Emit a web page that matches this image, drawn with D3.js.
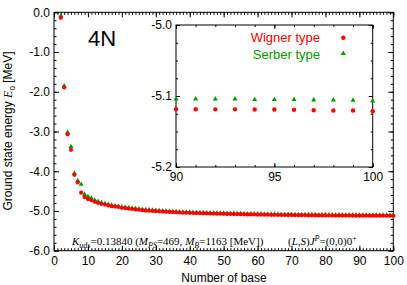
<!DOCTYPE html>
<html>
<head>
<meta charset="utf-8">
<script src="https://cdn.jsdelivr.net/npm/d3@7"></script>
<style>
  body { margin: 0; background: #fff; }
  svg { display: block; font-family: "Liberation Sans", Arial, sans-serif; }
  .tk text { font-family: "Liberation Sans", Arial, sans-serif; font-size: 12px; fill: #000; }
  .tk line { stroke: #000; }
  .ann { font-family: "Liberation Serif", "Times New Roman", serif; font-size: 11px; }
</style>
</head>
<body>
<svg width="407" height="285"></svg>
<script>
// number of basis functions
var nBase = d3.range(2, 101);

// Wigner type (red circles), N = 2 .. 100
var wigner = [
  -0.14, -1.89, -3.07, -3.46, -4.09, -4.28, -4.54, -4.65, -4.70, -4.73,
  -4.77, -4.80, -4.82, -4.84, -4.86, -4.88, -4.89, -4.90, -4.92, -4.93,
  -4.94, -4.95, -4.96, -4.97, -4.98, -4.99, -4.995, -5.00, -5.005, -5.01,
  -5.015, -5.02, -5.025, -5.03, -5.034, -5.038, -5.042, -5.045, -5.048, -5.051,
  -5.054, -5.057, -5.060, -5.062, -5.064, -5.066, -5.068, -5.070, -5.072, -5.074,
  -5.076, -5.078, -5.080, -5.082, -5.084, -5.086, -5.088, -5.089, -5.091, -5.092,
  -5.094, -5.095, -5.097, -5.098, -5.099, -5.101, -5.102, -5.103, -5.104, -5.105,
  -5.106, -5.107, -5.108, -5.109, -5.110, -5.111, -5.112, -5.112, -5.113, -5.114,
  -5.114, -5.115, -5.115, -5.116, -5.116, -5.117, -5.117, -5.118, -5.1187, -5.1187,
  -5.1188, -5.1188, -5.119, -5.119, -5.1195, -5.120, -5.1204, -5.1205, -5.1215
];

// Serber type (green triangles), N = 2 .. 100
var serber = [
  -0.09, -1.85, -3.02, -3.38, -4.05, -4.24, -4.33, -4.58, -4.64, -4.68,
  -4.73, -4.76, -4.79, -4.815, -4.835, -4.855, -4.87, -4.88, -4.90, -4.91,
  -4.92, -4.93, -4.94, -4.95, -4.96, -4.97, -4.976, -4.982, -4.988, -4.994,
  -5.00, -5.005, -5.01, -5.015, -5.019, -5.023, -5.027, -5.030, -5.033, -5.036,
  -5.039, -5.042, -5.045, -5.047, -5.049, -5.051, -5.053, -5.055, -5.057, -5.059,
  -5.061, -5.063, -5.065, -5.067, -5.069, -5.071, -5.073, -5.074, -5.076, -5.077,
  -5.079, -5.080, -5.082, -5.083, -5.084, -5.086, -5.087, -5.088, -5.089, -5.090,
  -5.091, -5.092, -5.093, -5.094, -5.095, -5.096, -5.097, -5.097, -5.098, -5.099,
  -5.099, -5.100, -5.100, -5.101, -5.101, -5.102, -5.102, -5.103, -5.1042, -5.1042,
  -5.1042, -5.1042, -5.1051, -5.1051, -5.1051, -5.1056, -5.1056, -5.106, -5.107
];

var mainXTicks = [0, 10, 20, 30, 40, 50, 60, 70, 80, 90, 100];
var mainYTicks = [0, -1, -2, -3, -4, -5, -6];
var insetXTicks = [90, 95, 100];
var insetYTicks = [-5.0, -5.1, -5.2];

var RED = "#ff0000", GREEN = "#009a00";

var svg = d3.select("svg");

var x = d3.scaleLinear().domain([0, 100]).range([54, 393.3]);
var y = d3.scaleLinear().domain([-6, 0]).range([250.7, 12.3]);

var fmt1 = function(d) { return d.toFixed(1); };
var tri = d3.symbol().type(d3.symbolTriangle).size(11);

// draws ticks on all four sides of a frame
function frame(g, xs, ys, o) {
  var x0 = xs.range()[0], x1 = xs.range()[1], y0 = ys.range()[0], y1 = ys.range()[1];

  g.append("g").attr("class", "tk").attr("transform", "translate(0," + y0 + ")")
    .call(d3.axisBottom(xs).tickValues(o.xMinor).tickSize(-o.minor).tickFormat(""));
  g.append("g").attr("class", "tk").attr("transform", "translate(0," + y1 + ")")
    .call(d3.axisTop(xs).tickValues(o.xMinor).tickSize(-o.minor).tickFormat(""));
  g.append("g").attr("class", "tk").attr("transform", "translate(0," + y0 + ")")
    .call(d3.axisBottom(xs).tickValues(o.xTicks).tickSize(-o.major).tickPadding(o.xPad).tickFormat(d3.format("d")));
  g.append("g").attr("class", "tk").attr("transform", "translate(0," + y1 + ")")
    .call(d3.axisTop(xs).tickValues(o.xTicks).tickSize(-o.major).tickFormat(""));

  g.append("g").attr("class", "tk").attr("transform", "translate(" + x0 + ",0)")
    .call(d3.axisLeft(ys).tickValues(o.yMinor).tickSize(-o.minor).tickFormat(""));
  g.append("g").attr("class", "tk").attr("transform", "translate(" + x1 + ",0)")
    .call(d3.axisRight(ys).tickValues(o.yMinor).tickSize(-o.minor).tickFormat(""));
  g.append("g").attr("class", "tk").attr("transform", "translate(" + x0 + ",0)")
    .call(d3.axisLeft(ys).tickValues(o.yTicks).tickSize(-o.major).tickPadding(o.yPad).tickFormat(fmt1));
  g.append("g").attr("class", "tk").attr("transform", "translate(" + x1 + ",0)")
    .call(d3.axisRight(ys).tickValues(o.yTicks).tickSize(-o.major).tickFormat(""));

  g.selectAll(".tk .domain").remove();
  g.selectAll(".tk").attr("font-size", null).attr("font-family", null);

  g.append("rect")
    .attr("x", x0).attr("y", y1)
    .attr("width", x1 - x0).attr("height", y0 - y1)
    .attr("fill", "none").attr("stroke", "#000").attr("stroke-width", 1);
}

// main plot
var gm = svg.append("g");
frame(gm, x, y, {
  xTicks: mainXTicks, yTicks: mainYTicks,
  xMinor: d3.range(0, 101, 1), yMinor: d3.range(-6, 0.001, 0.2),
  major: 5, minor: 2.5, xPad: 6, yPad: 4
});

var pts = nBase.map(function(n, i) { return {n: n, w: wigner[i], s: serber[i]}; });

gm.append("g").selectAll("path").data(pts).enter().append("path")
  .attr("d", tri)
  .attr("transform", function(d) { return "translate(" + x(d.n) + "," + y(d.s) + ")"; })
  .attr("fill", GREEN);
gm.append("g").selectAll("circle").data(pts).enter().append("circle")
  .attr("cx", function(d) { return x(d.n); })
  .attr("cy", function(d) { return y(d.w); })
  .attr("r", 2.1)
  .attr("fill", RED);

// axis titles
svg.append("text")
  .attr("x", 224).attr("y", 282)
  .attr("text-anchor", "middle").attr("font-size", 12)
  .text("Number of base");

var yt = svg.append("text")
  .attr("transform", "translate(12,131) rotate(-90)")
  .attr("text-anchor", "middle").attr("font-size", 12);
yt.append("tspan").text("Ground state energy ");
yt.append("tspan").attr("font-style", "italic").attr("font-family", "Liberation Serif, serif").text("E");
yt.append("tspan").attr("font-size", 8).attr("dy", 3).text("0");
yt.append("tspan").attr("dy", -3).text(" [MeV]");

svg.append("text")
  .attr("x", 88).attr("y", 46)
  .attr("font-size", 22)
  .text("4N");

// annotations
var a1 = svg.append("text").attr("class", "ann").attr("x", 72).attr("y", 245);
a1.append("tspan").attr("font-style", "italic").text("K");
a1.append("tspan").attr("font-style", "italic").attr("font-size", 8).attr("dy", 2.5).text("uds");
a1.append("tspan").attr("dy", -2.5).text("=0.13840 (");
a1.append("tspan").attr("font-style", "italic").text("M");
a1.append("tspan").attr("font-style", "italic").attr("font-size", 8).attr("dy", 2.5).text("PS");
a1.append("tspan").attr("dy", -2.5).text("=469, ");
a1.append("tspan").attr("font-style", "italic").text("M");
a1.append("tspan").attr("font-style", "italic").attr("font-size", 8).attr("dy", 2.5).text("B");
a1.append("tspan").attr("dy", -2.5).text("=1163 [MeV])");

var a2 = svg.append("text").attr("class", "ann").attr("x", 288).attr("y", 245);
a2.append("tspan").text("(");
a2.append("tspan").attr("font-style", "italic").text("L,S");
a2.append("tspan").text(")");
a2.append("tspan").attr("font-style", "italic").text("J");
a2.append("tspan").attr("font-style", "italic").attr("font-size", 8).attr("dy", -4).text("P");
a2.append("tspan").attr("dy", 4).text("=(0,0)0");
a2.append("tspan").attr("font-size", 8).attr("dy", -4).text("+");

// inset
var xi = d3.scaleLinear().domain([90, 100]).range([176, 372.7]);
var yi = d3.scaleLinear().domain([-5.2, -5.0]).range([167, 25]);

var gi = svg.append("g");
gi.append("rect")
  .attr("x", 176).attr("y", 25).attr("width", 372.7 - 176).attr("height", 142)
  .attr("fill", "#fff");
frame(gi, xi, yi, {
  xTicks: insetXTicks, yTicks: insetYTicks,
  xMinor: d3.range(90, 100.001, 1), yMinor: d3.range(-5.2, -4.999, 0.025),
  major: 4, minor: 2, xPad: 5, yPad: 4
});

var ipts = pts.filter(function(d) { return d.n >= 90; });
gi.append("g").selectAll("path").data(ipts).enter().append("path")
  .attr("d", tri)
  .attr("transform", function(d) { return "translate(" + xi(d.n) + "," + yi(d.s) + ")"; })
  .attr("fill", GREEN);
gi.append("g").selectAll("circle").data(ipts).enter().append("circle")
  .attr("cx", function(d) { return xi(d.n); })
  .attr("cy", function(d) { return yi(d.w); })
  .attr("r", 2.2)
  .attr("fill", RED);

// legend
var legend = svg.append("g").attr("font-size", 13).attr("text-anchor", "end");
legend.append("text").attr("x", 320).attr("y", 42).attr("fill", RED).text("Wigner type");
legend.append("circle").attr("cx", 343.3).attr("cy", 37.7).attr("r", 2.2).attr("fill", RED);
legend.append("text").attr("x", 320).attr("y", 59).attr("fill", GREEN).text("Serber type");
legend.append("path").attr("d", tri).attr("transform", "translate(343.3,53.5)").attr("fill", GREEN);
</script>
</body>
</html>
